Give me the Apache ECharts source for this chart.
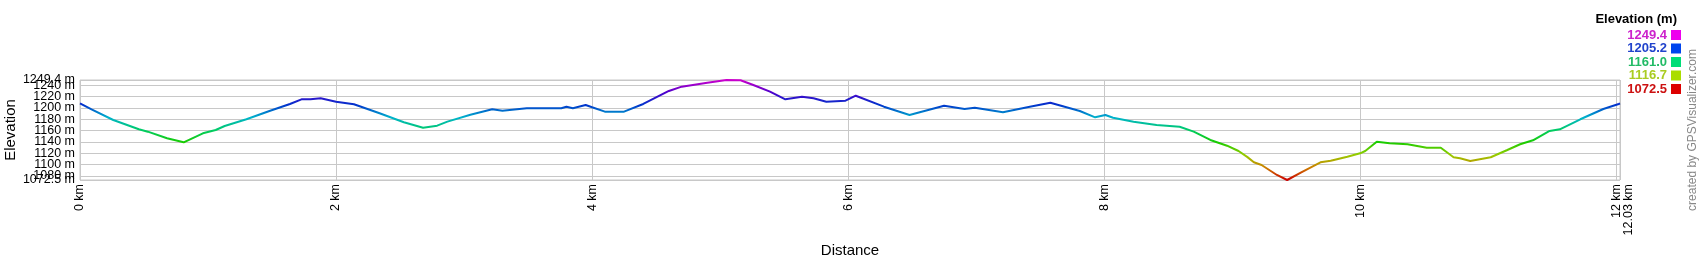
<!DOCTYPE html>
<html>
<head>
<meta charset="utf-8">
<script src="https://cdn.jsdelivr.net/npm/echarts@6/dist/echarts.min.js"></script>
<style>
html,body{margin:0;padding:0;background:#fff;}
#chart{width:1700px;height:260px;}
</style>
</head>
<body>
<div id="chart"></div>
<script>
// ---- data ----
const distKm = [0.00,0.09,0.26,0.46,0.53,0.68,0.81,0.96,1.06,1.13,1.30,1.48,1.64,1.73,1.80,1.88,2.00,2.14,2.34,2.53,2.68,2.79,2.87,3.05,3.22,3.30,3.49,3.76,3.80,3.85,3.95,4.00,4.10,4.25,4.40,4.60,4.70,4.90,5.05,5.16,5.26,5.39,5.51,5.64,5.73,5.83,5.98,6.06,6.28,6.48,6.75,6.91,6.99,7.21,7.42,7.58,7.81,7.93,8.01,8.07,8.23,8.41,8.59,8.70,8.83,8.96,9.05,9.12,9.17,9.23,9.35,9.43,9.54,9.69,9.77,9.90,10.00,10.04,10.13,10.23,10.37,10.52,10.63,10.64,10.73,10.78,10.86,11.02,11.15,11.25,11.35,11.48,11.56,11.72,11.90,12.02,12.03];
const elevM = [1208.0,1197.5,1178.6,1162.2,1158.0,1146.3,1139.2,1155.1,1161.0,1168.0,1179.9,1194.6,1207.0,1215.2,1215.2,1217.0,1211.0,1206.4,1190.5,1174.6,1165.0,1168.6,1175.7,1188.0,1197.5,1195.1,1199.3,1199.3,1202.2,1199.3,1205.2,1201.1,1193.4,1193.4,1207.0,1230.0,1237.6,1244.6,1249.4,1248.9,1240.6,1228.8,1215.2,1219.9,1217.0,1211.0,1212.8,1221.6,1202.2,1187.5,1204.0,1198.1,1200.4,1192.3,1202.2,1209.3,1194.6,1183.4,1187.5,1182.7,1175.7,1169.8,1166.8,1158.0,1143.3,1133.2,1123.8,1113.0,1103.8,1099.0,1081.4,1072.5,1086.1,1103.8,1106.6,1113.7,1119.7,1123.8,1140.3,1137.4,1135.7,1129.6,1129.6,1127.3,1112.7,1110.9,1106.1,1112.7,1125.6,1135.7,1142.7,1159.2,1162.2,1179.9,1198.1,1207.0,1208.0];
const yTicks = [1072.5,1080,1100,1120,1140,1160,1180,1200,1220,1240,1249.4];
const xTicks = [0,2,4,6,8,10,12,12.03];
const legendValues = ['1249.4','1205.2','1161.0','1116.7','1072.5'];
const legendSwatch = ['#ee00ee','#0044ee','#00dd77','#aadd00','#dd0000'];
const legendText = ['#cc22cc','#2244cc','#22bb66','#aacc22','#cc1111'];
const rampColors = ['#cc0000','#cc8000','#99cc00','#1acc00','#00cc66','#00b3cc','#0033cc','#4d00cc','#cc00cc'];
const yMin = 1072.5, yMax = 1249.4, xMax = 12.03;

const FONT = "'Liberation Sans', Arial, sans-serif";
const chart = echarts.init(document.getElementById('chart'), null, {renderer:'canvas'});

// labels are split over stacked axes so the library does not drop overlapping ones
const yLabelGroups = [
  yTicks.filter(v => v === yMin || v === yMax),
  yTicks.filter(v => v !== yMin && v !== yMax && v % 40 === 0),
  yTicks.filter(v => v !== yMin && v !== yMax && v % 40 !== 0)
];
const xLabelGroups = [
  xTicks.filter(v => v !== xMax),
  xTicks.filter(v => v === xMax)
];

const graphics = [];
graphics.push({type:'text', right: 23, top: 13, style:{text:'Elevation (m)', font:'bold 13px ' + FONT, fill:'#000'}});
const rowY = [35, 48.5, 62, 75.5, 89];
legendValues.forEach((v,i)=>{
  graphics.push({type:'text', x:1667, y:rowY[i], style:{text:v, font:'bold 13px ' + FONT, fill:legendText[i], align:'right', verticalAlign:'middle'}});
  graphics.push({type:'rect', shape:{x:1671, y:rowY[i]-5, width:10, height:10}, style:{fill:legendSwatch[i]}});
});
graphics.push({type:'text', x:1693, y:130, rotation:Math.PI/2, style:{text:'created by GPSVisualizer.com', font:'12px ' + FONT, fill:'#888', align:'center', verticalAlign:'middle'}});

const baseLabel = {fontFamily:FONT, fontSize:12.5, color:'#000', showMinLabel:true, showMaxLabel:true, hideOverlap:false};

const yAxes = yLabelGroups.map((vals, i) => ({
  type:'value', min:yMin, max:yMax, position:'left', offset:0,
  name: i === 0 ? 'Elevation' : '', nameLocation:'middle', nameGap:62, nameMoveOverlap:false,
  nameTextStyle:{fontFamily:FONT, fontSize:15, color:'#000'},
  axisLine:{show:false},
  axisTick:{show:false, customValues: i === 0 ? yTicks : vals},
  axisLabel:Object.assign({}, baseLabel, {customValues:vals, margin:5, formatter:(v)=> v + ' m'}),
  splitLine:{show: i === 0, lineStyle:{color:'#c8c8c8', width:1}}
}));

const xAxes = xLabelGroups.map((vals, i) => ({
  type:'value', min:0, max:xMax, position:'bottom', offset:0,
  name: i === 0 ? 'Distance' : '', nameLocation:'middle', nameGap:63, nameMoveOverlap:false,
  nameTextStyle:{fontFamily:FONT, fontSize:15, color:'#000'},
  axisLine:{show:false},
  axisTick:{show:false, customValues: i === 0 ? xTicks : vals},
  axisLabel:Object.assign({}, baseLabel, {customValues:vals, rotate:90, margin:4,
    formatter:(v)=> i === 1 ? '{s|' + v + ' km}' : v + ' km',
    rich:{s:{fontFamily:FONT, fontSize:12.5, color:'#000', padding:[17,0,0,0]}}}),
  splitLine:{show: i === 0, lineStyle:{color:'#c8c8c8', width:1}}
}));

chart.setOption({
  animation:false,
  backgroundColor:'#fff',
  grid:{left:80, right:80, top:80, bottom:80, containLabel:false, outerBoundsMode:'none',
        show:true, borderColor:'#c8c8c8', borderWidth:1},
  visualMap:{type:'continuous', show:false, dimension:1, min:yMin, max:yMax, inRange:{color:rampColors}, seriesIndex:0},
  xAxis: xAxes,
  yAxis: yAxes,
  series:[{
    type:'line', showSymbol:false, symbol:'none',
    lineStyle:{width:2},
    xAxisIndex:0, yAxisIndex:0,
    data: distKm.map((d,i)=>[d, elevM[i]])
  }],
  graphic: graphics
});
</script>
</body>
</html>
